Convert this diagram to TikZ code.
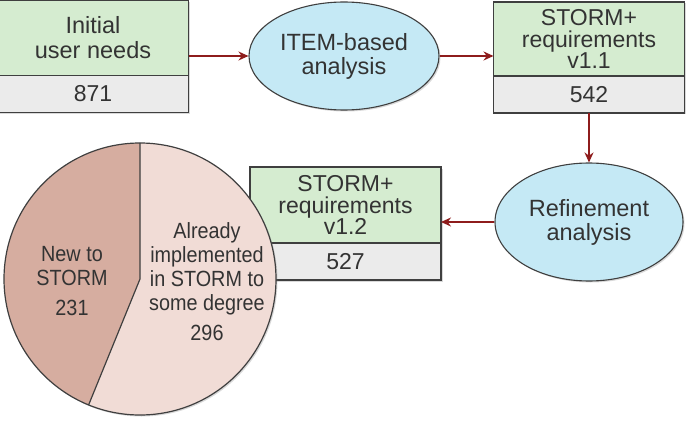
\documentclass[tikz,border=0pt]{standalone}
\usepackage{fontspec}
\setmainfont{Liberation Sans}
\newfontfamily\narrowsf[FakeStretch=0.9]{Liberation Sans}
\usetikzlibrary{positioning,shapes.geometric,arrows.meta,shadows}
\definecolor{needgreen}{HTML}{D5ECD0}
\definecolor{countgray}{HTML}{EBEBEB}
\definecolor{stepblue}{HTML}{C5E9F5}
\definecolor{boxline}{HTML}{3F3F3F}
\definecolor{textgray}{HTML}{333333}
\definecolor{arrowred}{HTML}{8E1C1C}
\definecolor{piedark}{HTML}{D6ADA0}
\definecolor{pielight}{HTML}{F1DCD6}

\begin{document}
\begin{tikzpicture}[x=1pt, y=1pt,
  every node/.style={text=textgray, align=center},
  softshadow/.style={drop shadow={shadow xshift=1.5pt, shadow yshift=-1.5pt, opacity=0.3}},
  reqbox/.style={draw=boxline, line width=1.1pt, fill=needgreen, minimum width=191pt,
    minimum height=75pt, inner sep=0pt, outer sep=0pt, softshadow,
    font=\fontsize{23}{21.5}\selectfont},
  countbox/.style={draw=boxline, line width=1.1pt, fill=countgray, minimum width=191pt,
    minimum height=37pt, inner sep=0pt, outer sep=0pt, softshadow,
    font=\fontsize{23}{23}\selectfont},
  analysis/.style={ellipse, draw=boxline, line width=1.1pt, fill=stepblue, inner sep=0pt,
    softshadow, font=\fontsize{23.5}{24}\selectfont},
  flow/.style={draw=arrowred, line width=1.6pt, -{Stealth[length=10pt, width=9pt]}},
  pietext/.style={font=\narrowsf\fontsize{22}{24}\selectfont}]
  \useasboundingbox (0,0) rectangle (696,-425);

  % top row
  \node[reqbox, font=\fontsize{23.5}{25}\selectfont] (needs) at (93,-38) {Initial\\user needs};
  \node[countbox, below=0pt of needs] (needsnum) {871};
  \node[analysis, minimum width=190pt, minimum height=108pt] (item) at (344,-56) {ITEM-based\\analysis};
  \node[reqbox, minimum height=74pt] (req1) at (589,-39) {STORM+\\requirements\\v1.1};
  \node[countbox, below=0pt of req1] (req1num) {542};

  % second row
  \node[analysis, minimum width=188pt, minimum height=118pt] (refine) at (589,-222) {Refinement\\analysis};
  \node[reqbox, minimum height=76pt] (req2) at (345.5,-205) {STORM+\\requirements\\v1.2};
  \node[countbox, below=0pt of req2] (req2num) {527};

  \draw[flow] (needs.east |- item.west) -- (item.west);
  \draw[flow] (item.east) -- (item.east -| req1.west);
  \draw[flow] (req1num.south) -- (refine.north);
  \draw[flow] (refine.west) -- (refine.west -| req2.east);

  % pie of the v1.2 requirements
  \coordinate (piec) at (140,-279);
  \path[fill=pielight, softshadow] (piec) circle (136);
  \fill[piedark] (piec) -- ++(90:136) arc[start angle=90, end angle=247.8, radius=136] -- cycle;
  \draw[boxline, line width=1.2pt] (piec) ++(90:136) -- (piec) -- ++(247.8:136);
  \draw[boxline, line width=1.2pt] (piec) circle (136);
  \node[pietext] (newpart) at (72,-281) {New to\\STORM\\[6pt]231};
  \node[pietext] (oldpart) at (207,-282) {Already\\implemented\\in STORM to\\some degree\\[6pt]296};
\end{tikzpicture}
\end{document}
